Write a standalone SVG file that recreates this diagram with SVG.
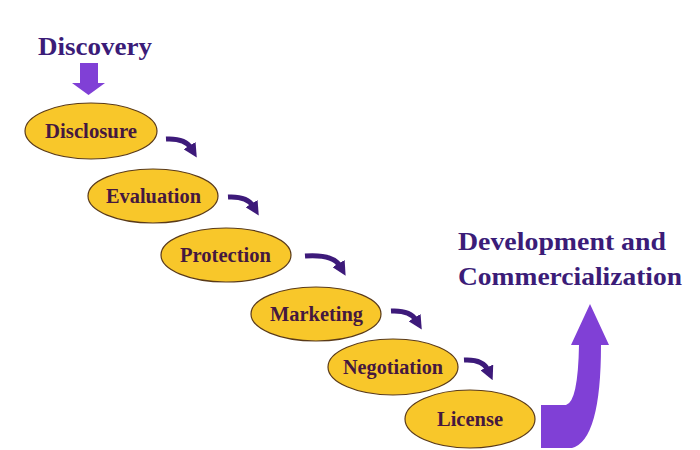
<svg xmlns="http://www.w3.org/2000/svg" width="700" height="450" viewBox="0 0 700 450">
<style>
.node ellipse{fill:#f8c72a;stroke:#5a3a18;stroke-width:1.2}
.node text{font-family:"Liberation Serif",serif;font-weight:bold;font-size:20px;fill:#45183f;text-anchor:middle}
.title{font-family:"Liberation Serif",serif;font-weight:bold;fill:#3b1c78}
.conn path{fill:none;stroke:#3d1a7a;stroke-width:5;marker-end:url(#ah)}
</style>
<defs>
<marker id="ah" viewBox="0 0 10 10" markerWidth="14" markerHeight="14" refX="2" refY="5" orient="auto" markerUnits="userSpaceOnUse">
<path d="M0,0 L10,5 L0,10 z" fill="#3d1a7a"/>
</marker>
</defs>
<rect width="700" height="450" fill="#fff"/>
<text class="title" x="38" y="55" font-size="26" textLength="114" lengthAdjust="spacingAndGlyphs">Discovery</text>
<path d="M80,63 L98,63 L98,83 L105,83 L88.5,95 L72,83 L80,83 Z" fill="#8040d6"/>
<text class="title" x="458" y="250" font-size="25" textLength="208" lengthAdjust="spacingAndGlyphs">Development and</text>
<text class="title" x="458" y="285" font-size="25" textLength="224" lengthAdjust="spacingAndGlyphs">Commercialization</text>
<path d="M541,405 L566,405 Q578,402 579,345 L571,345 L590,304 L609,345 L601,345 Q601,440 572,448 L541,448 Z" fill="#8040d6"/>
<g id="disclosure" class="node"><ellipse cx="91" cy="131" rx="66" ry="28"/><text x="91" y="138" textLength="92" lengthAdjust="spacingAndGlyphs">Disclosure</text></g>
<g id="evaluation" class="node"><ellipse cx="153" cy="196" rx="65" ry="27"/><text x="153.5" y="203" textLength="95" lengthAdjust="spacingAndGlyphs">Evaluation</text></g>
<g id="protection" class="node"><ellipse cx="226" cy="255" rx="65" ry="27"/><text x="225.5" y="262" textLength="91" lengthAdjust="spacingAndGlyphs">Protection</text></g>
<g id="marketing" class="node"><ellipse cx="316" cy="314" rx="65" ry="27"/><text x="316.5" y="321" textLength="93" lengthAdjust="spacingAndGlyphs">Marketing</text></g>
<g id="negotiation" class="node"><ellipse cx="393" cy="367" rx="65" ry="28"/><text x="393" y="374" textLength="100" lengthAdjust="spacingAndGlyphs">Negotiation</text></g>
<g id="license" class="node"><ellipse cx="470" cy="419" rx="65" ry="29"/><text x="470" y="426" textLength="66" lengthAdjust="spacingAndGlyphs">License</text></g>
<g id="connectors" class="conn">
<path d="M166,139 Q185,138 191,148"/>
<path d="M228,197 Q247,196 253,206"/>
<path d="M305,256 Q333,254 340,266"/>
<path d="M391,311 Q410,310 416,320"/>
<path d="M464,360 Q483,359 488,370"/>
</g>
</svg>
